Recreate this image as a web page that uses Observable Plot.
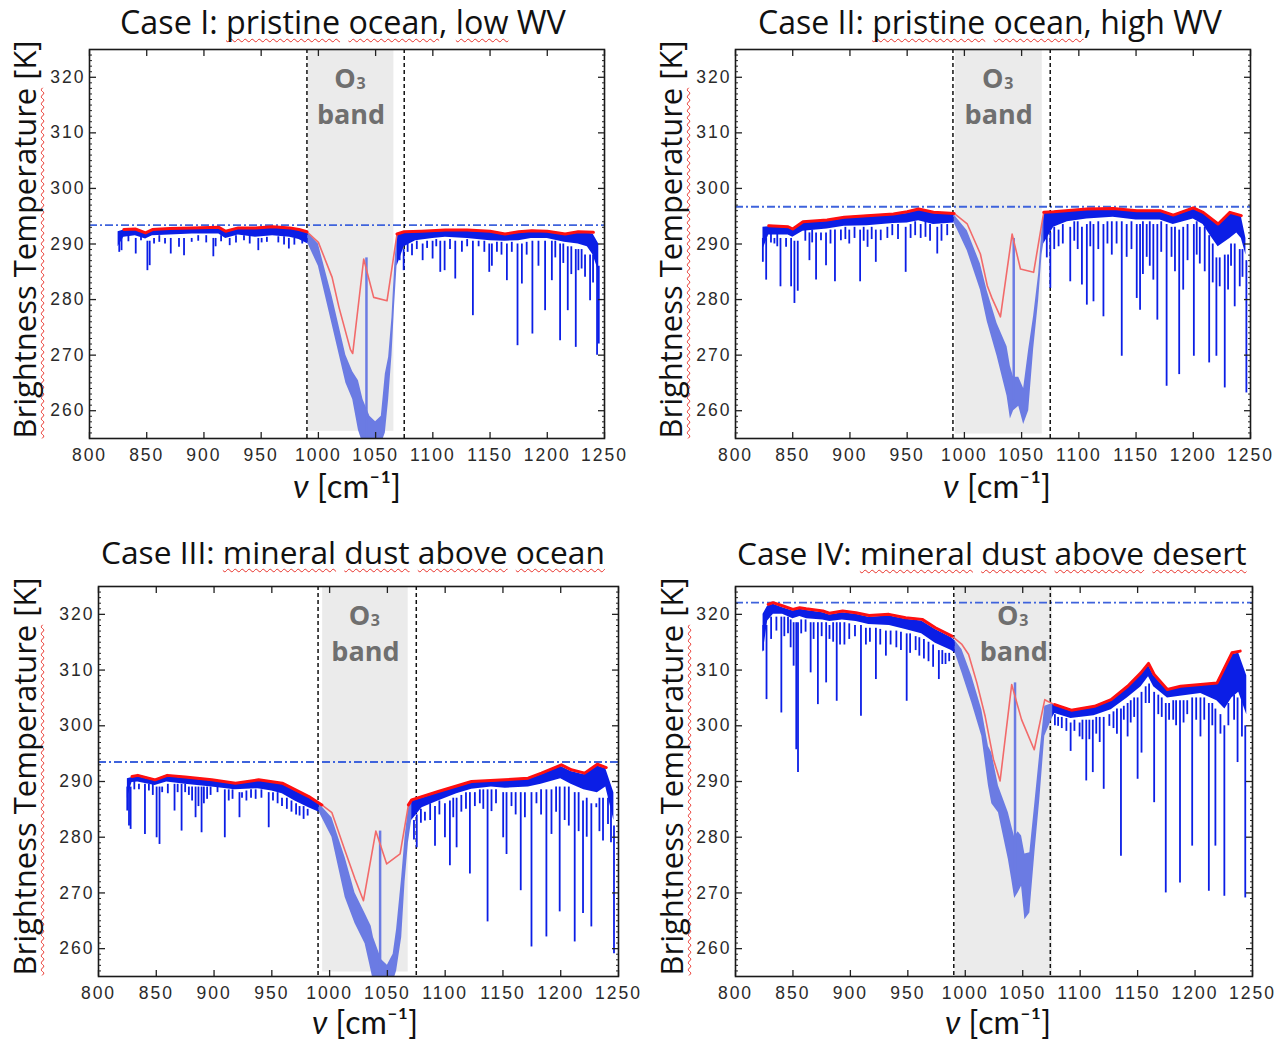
<!DOCTYPE html>
<html><head><meta charset="utf-8">
<script src="https://cdn.jsdelivr.net/npm/d3@7"></script>
<script src="https://cdn.jsdelivr.net/npm/@observablehq/plot@0.6"></script>
<style>
body{margin:0;background:#fff;}
#fig{position:relative;width:1288px;height:1041px;overflow:hidden;font-family:"Open Sans",sans-serif;color:#111;background:#fff}
.lab{position:absolute;white-space:nowrap;line-height:1;transform-origin:50% 50%}
.xlab{font-family:Lato,"Open Sans",sans-serif}
.sq{text-decoration:underline wavy #e8322a;text-decoration-thickness:1px;text-underline-offset:4px;text-decoration-skip-ink:none}
g[aria-label$="tick label"] text{letter-spacing:2px}
</style></head><body><div id="fig"></div>
<script>
// ---------------- data ----------------
const xTicks = [800, 850, 900, 950, 1000, 1050, 1100, 1150, 1200, 1250];
const yTicks = [260, 270, 280, 290, 300, 310, 320];
const titles = ["Case I: pristine ocean, low WV", "Case II: pristine ocean, high WV",
  "Case III: mineral dust above ocean", "Case IV: mineral dust above desert"];
const flagged = [["pristine", "ocean,", "low"], ["pristine", "ocean,"],
  ["mineral", "dust", "above", "ocean"], ["mineral", "dust", "above", "desert"]];
const yLabelWords = ["Brightness Temperature", "[K]"];
const xLabelParts = ["ν", "[cm⁻¹]"];
const o3Label = ["O", "3", "band"];
// O3 band [from, to, bottom]
const bands = [[991, 1066, 256.3], [992, 1068, 255.8], [994, 1068, 255.8], [991, 1076, 255]];
const dashedNu = [[990, 1075], [990, 1075], [990, 1075], [990, 1074]];
const refLevel = [293.4, 296.7, 293.5, 322.1];

// red envelope [nu, T]
const p1Red = [[830,292.6],[840,292.7],[849,292.0],[855,292.6],[870,292.8],[890,292.9],[913,293.0],[919,292.3],[930,292.9],[945,292.9],[960,293.1],[975,292.9],[983,292.6],[990,292.2],[1000,290.3],[1012,284.0],[1018,278.6],[1028,271.0],[1030,270.3],[1039.6,287.3],[1048.3,280.4],[1060,279.8],[1068.7,291.8],[1075,292.2],[1090,292.3],[1111,292.5],[1130,292.5],[1150,292.3],[1163,291.8],[1175,292.2],[1186.5,292.4],[1200,292.3],[1215.6,291.8],[1227,292.2],[1240.3,292.1]];
const p2Red = [[829,293.3],[846,293.1],[850,292.7],[859,294.0],[880,294.3],[895,294.8],[915,295.1],[938,295.4],[950,295.8],[960,296.3],[973,295.7],[991,295.5],[1002.5,293.6],[1014,288.2],[1020,282.5],[1024,280.3],[1031.5,276.9],[1041.7,291.8],[1049,285.5],[1060.5,284.9],[1069.3,295.7],[1078,295.8],[1107,296.3],[1130,296.4],[1150.6,296.0],[1171,296.0],[1182.5,295.2],[1200,296.5],[1208.6,295.7],[1221.7,293.6],[1232,295.7],[1242,295.1]];
const p3Red = [[829,290.9],[834,291.1],[849,290.3],[859.5,291.1],[875,290.8],[898,290.3],[918.6,289.7],[938.6,290.3],[959,289.7],[970.5,288.5],[982,287.3],[993.3,285.8],[1002,284.4],[1013.5,277.5],[1022,272.5],[1029.3,268.6],[1040,281.1],[1049.4,275.2],[1061,277.0],[1068.2,285.8],[1071,286.7],[1094,288.2],[1122.8,290.0],[1151.6,290.3],[1171.8,290.6],[1183.3,291.5],[1200.6,293.0],[1209.2,292.1],[1220.7,291.5],[1231.7,293.1],[1239.4,292.5]];
const p4Red = [[828.4,321.8],[832.7,322.1],[841.4,321.5],[850,320.9],[855.8,321.2],[861.5,321.0],[876,320.6],[881.7,320.2],[893.3,320.6],[904.8,320.3],[916.3,319.8],[933.6,320.0],[948.1,319.4],[962.5,319.1],[974,317.6],[988.4,316.1],[997.1,314.6],[1002.9,312.8],[1010.1,307.7],[1017.3,301.7],[1024.5,294.0],[1030.3,290.1],[1040.4,307.4],[1049,301.1],[1060,295.7],[1069.2,304.7],[1071.5,304.4],[1077.9,303.8],[1092.3,302.8],[1112.5,303.5],[1126.9,304.7],[1141.3,307.1],[1152.8,309.5],[1159.5,311.2],[1164.4,309.2],[1175.9,306.5],[1187.4,307.1],[1204.7,307.4],[1219.2,307.7],[1226.4,310.7],[1232.1,313.1],[1239.3,313.4]];

// dense blue spectrum outside the O3 band [nu, upper, lower]
const p1Fuzz = [[825,292.2,289.5],[830,292.5,291.2],[840,292.6,291.5],[849,292.0,290.9],[855,292.5,291.5],[870,292.6,291.6],[890,292.8,291.8],[913,292.8,291.8],[919,292.2,291.0],[930,292.8,291.6],[945,292.8,291.2],[960,293.0,291.5],[975,292.8,291.2],[983,292.4,290.8],[991,292.0,290.0],
  [1068.7,291.6,286.0],[1075,292.0,289.5],[1085,292.1,290.6],[1100,292.2,291.0],[1111,292.4,291.2],[1130,292.3,291.0],[1150,292.2,290.6],[1163,291.7,290.5],[1175,292.1,290.6],[1186,292.3,291.0],[1200,292.2,291.0],[1215,291.7,290.3],[1227,292.0,290.0],[1235,292.0,289.5],[1240,291.8,288.0],[1245,290.0,285.0]];
const p2Fuzz = [[824,293.0,289.0],[829,293.1,291.6],[846,292.9,291.6],[850,292.5,291.2],[859,293.8,292.3],[880,294.1,292.7],[895,294.6,293.2],[915,294.9,293.3],[938,295.2,293.7],[950,295.5,293.8],[960,296.1,294.2],[973,295.5,293.5],[985,295.3,293.7],[991,295.3,293.8],
  [1069.3,295.5,290.0],[1078,295.6,293.0],[1090,295.8,294.0],[1107,296.1,294.5],[1130,296.2,294.8],[1150,295.8,294.3],[1171,295.8,294.3],[1182.5,295.0,293.5],[1200,296.3,294.5],[1208.6,295.5,293.5],[1215,294.5,291.5],[1221.7,293.4,289.5],[1232,295.5,291.0],[1238,295.3,292.0],[1242,294.9,291.0],[1246,291.0,288.0]];
const p3Fuzz = [[825,290.5,287.0],[829,290.7,289.8],[834,290.9,289.9],[849,290.1,289.3],[859,290.9,289.9],[875,290.6,289.5],[898,290.1,289.0],[918,289.5,288.5],[938,290.1,288.7],[950,289.8,288.3],[959,289.5,287.8],[970,288.3,286.5],[982,287.1,285.3],[991,286.0,284.5],
  [1071,286.5,283.0],[1080,287.0,285.3],[1094,288.0,286.5],[1110,289.0,287.8],[1123,289.8,288.6],[1140,290.0,289.0],[1152,290.1,288.8],[1172,290.4,289.0],[1183,291.2,289.5],[1200,292.7,290.5],[1209,291.8,289.5],[1220,291.2,288.5],[1231.7,292.8,288.0],[1239,292.3,289.0],[1246,288.0,283.0]];
const p4Fuzz = [[824,320.0,313.0],[828,321.5,318.8],[833,321.8,320.0],[841,321.2,320.0],[850,320.6,319.2],[856,320.9,319.6],[862,320.7,319.2],[876,320.3,319.0],[882,319.9,318.7],[893,320.3,319.0],[905,320.0,318.7],[916,319.5,318.2],[934,319.7,318.0],[948,319.1,317.3],[962,318.8,316.5],[974,317.3,314.8],[988,315.8,313.5],[991.3,315.2,313.0],
  [1076,304.0,301.5],[1078,303.6,302.2],[1092,302.6,301.3],[1112,303.3,301.8],[1127,304.5,302.9],[1141,306.9,305.0],[1153,309.2,307.0],[1159.5,310.8,308.8],[1164,309.0,307.0],[1176,306.3,305.0],[1187,306.9,305.3],[1205,307.2,305.8],[1219,307.5,304.5],[1226,310.3,303.0],[1232,312.8,305.0],[1238,313.0,306.0],[1245,309.0,302.0]];

// blue spectrum inside the O3 band [nu, upper, lower]
const p1Band = [[991,292.0,290.0],[1000,290.0,286.0],[1012,280.6,275.5],[1024,270.0,265.0],[1030,267.0,262.0],[1035,265.4,256.5],[1039,262.0,254.0],[1045,259.0,254.0],[1050,258.0,254.0],[1055,259.0,254.0],[1058.5,266.6,256.0],[1061.4,269.6,262.0],[1064.3,276.8,270.0],[1066.6,285.8,279.0],[1068.7,291.6,286.0]];
const p2Band = [[991,295.3,293.8],[994,294.5,292.5],[1002.5,292.4,288.8],[1014,286.4,281.7],[1020,281.5,276.0],[1028.6,275.7,269.8],[1037.3,271.5,262.6],[1040.2,268.0,258.5],[1043,266.0,260.0],[1047.5,266.0,260.8],[1051.8,264.0,257.5],[1056.2,271.0,260.0],[1060.5,277.0,271.0],[1064.9,284.6,279.9],[1067.8,292.5,288.0],[1069.3,295.5,290.0]];
const p3Band = [[991,286.0,284.5],[1002,283.5,280.0],[1013.5,276.3,269.2],[1022,270.0,264.5],[1030.7,266.3,260.9],[1036,264.0,256.0],[1038,262.0,254.0],[1045,258.0,254.0],[1050,257.0,254.0],[1055,259.0,254.0],[1058,263.5,256.0],[1062.4,272.8,262.0],[1065.3,280.0,272.0],[1068.2,285.3,279.0],[1071,286.5,283.0]];
const p4Band = [[991.3,315.2,313.0],[997.1,313.7,309.5],[1005.7,308.9,304.1],[1014.4,302.9,298.1],[1020.2,296.3,289.2],[1023.1,295.1,286.0],[1028.9,289.2,284.4],[1037.5,284.4,276.0],[1040.4,282.0,272.4],[1043,280.0,269.0],[1046,281.0,270.0],[1049,280.2,271.2],[1051.9,277.0,265.2],[1056.2,277.2,266.4],[1060.6,286.2,277.2],[1064.9,295.1,286.8],[1069.2,303.5,298.1],[1076,304.0,301.5]];

// absorption lines [nu, top, bottom]
const p1Spikes = [[826,291,288.5],[828,291,288.8],[834,291.5,290.4],[840.4,291,288.2],[845,291.5,290.6],[850.6,290.5,285.2],[852.6,290.5,286.1],[856.4,291,290],[861,291.5,290.3],[866,291,290],[871,291,288.2],[878.2,291,289.4],[882.6,291,287.9],[889.3,291,290.3],[895,291.5,290.5],[902,291.5,290.2],[908.2,291,287.7],[910.2,291,289.5],[915,291.5,290.4],[922.5,291,289.7],[928,291.5,290.2],[935,291.5,290.6],[940,291.5,290.0],[947.5,291,288.8],[950.4,291,290.2],[955,291.2,290.3],[965,291.3,290.2],[970,291.3,289.8],[974.2,291,289.1],[979,291.0,289.8],[985.9,291,290],
  [1071,289,287],[1074.5,289,285.2],[1078,290,288.5],[1081.8,290,287.9],[1086,290.5,289.0],[1091.1,290,287],[1095,290.5,289.2],[1099.8,290.5,287.3],[1103,290.8,289.5],[1106.5,290.5,284.9],[1110.3,290.5,285.2],[1115,290.8,289.0],[1119.6,290.5,283.7],[1125.4,290.5,288.5],[1130,290.8,289.5],[1135,290.5,277.1],[1140,290.5,289.5],[1145,290.5,288.5],[1149.3,290,284.9],[1151.6,290,286],[1156,290.3,288.5],[1160,290.3,288.0],[1164.7,290,283.4],[1169,290.3,288.5],[1174,290,271.7],[1177.8,290,282.8],[1182,290.3,288.0],[1187,290.5,273.8],[1192.3,290.5,286],[1198.1,290.5,278],[1204,290.5,283.4],[1207,290.5,287.5],[1211.2,290,272.6],[1214,290,286.5],[1217.9,289.5,278],[1221,289.5,284.5],[1224.9,289,271.4],[1227.2,289,285.2],[1230,289,285.5],[1233,288,284],[1237.4,288,279.8],[1240,288,283],[1243.5,288,270],[1245,286,272]];
const p2Spikes = [[823.9,291,286.7],[826.8,291,283.5],[831,292,290.2],[834,291,290],[836.5,292,289.5],[839.3,291,282.3],[844.2,291,289.4],[848.6,291,282.3],[851.5,290.5,279.3],[854.4,290.5,281.5],[861,292.5,290.5],[864.6,292,287],[867,292.5,290.2],[870.4,292,283.5],[874.7,292,290.6],[879.1,292,286.1],[883,292.5,290.0],[886.9,292.5,283.2],[892.1,292.5,290.6],[896,293,290.8],[899.4,292.5,290],[904,293,291.0],[908.9,292.5,283.2],[912,293,290.5],[915.4,292.5,289.4],[919,293,290.8],[922.6,292.5,286.7],[926.9,292.5,290.6],[932.7,293,291.0],[937,293.5,291.5],[942,293.5,290.8],[948.7,293,284.9],[953,293.5,291.0],[957,294,291.5],[961.8,293.5,291.0],[966,294,291.2],[970,293.5,290.5],[976.3,293,288.2],[980,293.5,290.5],[985,293.5,291.5],
  [1072,292,287.5],[1075.1,292,282],[1078.5,293,289.0],[1082.3,292.5,289.5],[1086,293.5,290.0],[1092.5,293,283.2],[1096,294,290.5],[1099,294,289.0],[1102.7,293,282.6],[1107,293.5,279],[1110,294,289.5],[1112.8,293.5,279.6],[1117,294,289.0],[1121.5,293.5,276.9],[1125,294,290.0],[1128.8,294,288],[1133,294,290.0],[1137.5,294,269.8],[1141.8,293.5,287.6],[1146,294,289.0],[1150.6,293.5,280.2],[1153.5,293.5,278.1],[1156,294,284.5],[1159.3,293.5,287.6],[1162,294,286.0],[1165.1,293.5,283.5],[1168.6,293.5,276.3],[1172,294,288.5],[1176.7,293.5,264.4],[1181,293,287.6],[1184,293,285.0],[1187.7,292.5,266.5],[1191.2,293,281.7],[1195,293.5,287.0],[1200.5,293.5,269.8],[1203,294,288.0],[1205.7,293,286.4],[1210,293,285.0],[1213.9,291.5,268.6],[1217,290,283.0],[1220.2,287.5,269.8],[1223.1,287.5,282.3],[1227.5,288,264.1],[1230.4,288,281.7],[1233,290,286.0],[1236.2,290,278.7],[1240.6,289,282.3],[1243,289,284.0],[1246.4,287,263.2]];
const p3Spikes = [[824.9,289,284.7],[826.4,289,282],[827.8,289,281.4],[831,290,288.5],[835,289.5,288.5],[840.2,289.5,280.5],[843.6,289.5,288.3],[847,289.5,287.5],[850.3,289,279.9],[852.8,289,278.7],[855.1,289,288.0],[860,289.5,287.8],[865.8,289.5,284.7],[868.5,289.5,288.0],[871.9,289.5,281.1],[875,289.5,288.0],[878.2,289,287.5],[881,289,286.5],[884,289,283.5],[886.5,289,285.5],[889.2,289,280.8],[891.2,289,286],[894,289,286.8],[897,289,287.5],[903,289,288.0],[909.3,288.5,279.9],[912.7,288.5,286.5],[916,288.5,286.8],[922,288,283.5],[924.2,288,287],[928,288.3,286.5],[932,288.5,287.0],[936,288.5,286.8],[941,288.5,287.0],[947.3,288,281.7],[951,288,286.5],[955,288,286.0],[958.8,287,285.5],[963,287,285.0],[967,286.5,284.5],[971,286,284.0],[974,285.5,283.8],[977.5,285.5,283.2],[981,285,283.8],
  [1073,283,279.5],[1075.4,284,278.1],[1079,285,282.5],[1082.5,284.5,282.9],[1087,286,283.0],[1091.2,285.5,278.4],[1095,286.5,284.0],[1099.8,286,279.9],[1104.1,286.5,274.9],[1107,287,283.5],[1109.9,287,278.1],[1114,287.5,284.5],[1118,288,285.0],[1121.4,288,273.4],[1125.7,288,285.5],[1130,288.5,286.0],[1133,288.5,285.0],[1136.7,288.5,264.8],[1140.1,288.5,284.6],[1144,288.5,286.0],[1150.2,288,279.9],[1153.1,288,276.9],[1157.4,288,285.5],[1161,288,284.0],[1165.4,288,270.4],[1169,288,283.5],[1174.7,288,260.3],[1179,288,286],[1183,288.5,284.0],[1187.6,288.5,262.1],[1192,288.5,280.5],[1196,289,284.5],[1199.1,289,266.6],[1203.4,289,283],[1207,289,282.0],[1212.1,288,261.2],[1215.5,288,281.0],[1219.3,286.5,266.3],[1222.5,287,280.0],[1226.5,286,263.9],[1230.8,286,285.3],[1233.5,287,281.0],[1236.6,287,279.3],[1240.9,287,282.3],[1243.5,286,279.0],[1246.1,282,259.1]];
const p4Spikes = [[824.1,318,313.4],[827,318,304.7],[831,319.5,315.5],[835.6,319.5,317.0],[839.9,319.5,302.3],[842.5,319.5,316.0],[845.7,319.5,316.5],[848,319,314.0],[850.6,318.5,310.7],[852.9,318.5,295.7],[854.4,318.5,291.6],[857.2,319,316.5],[861,319,316.8],[865.4,318.5,309.5],[868,318.5,315.5],[871.7,318.5,303.8],[875,318.5,316.0],[878.9,318.5,307.7],[881.8,318,315.5],[885,318.5,315.0],[888.1,318.5,304.4],[891,318.5,314.5],[894.8,318.5,314.5],[899,318.3,315.5],[904,318,316.0],[909.2,318,301.7],[913.5,317.5,314.5],[917,317.5,315.0],[922.2,317.5,308.3],[926,317.3,314.5],[930.9,317,312.5],[935,317,314.5],[940,317,314.0],[944,316.8,313.5],[949,316.5,304.4],[952,316.5,313.0],[956.8,316,313.5],[960,315.8,312.5],[964,315.5,312.0],[968,315,311.5],[972,314.5,310.5],[977,313.5,308.3],[980,313.5,311.0],[982.8,313,311],[986,313,311.5],
  [1078,302,300.0],[1080.8,301.5,299.9],[1084,301.5,299.5],[1088,301.3,299.0],[1091.7,300.5,295.4],[1095,301,299.0],[1099.5,300.5,298],[1102,301,297.5],[1105.3,301,290.1],[1108,301,297.5],[1111,301,291.6],[1114,301.5,298.5],[1117,301.5,297.0],[1120.5,301.5,288.6],[1125.4,302,299.9],[1129,302.5,299.5],[1132,303,298.5],[1135.5,303,276.6],[1138,303.5,301.0],[1141.3,304,298],[1144,304.5,300.5],[1147,305,301.5],[1150,305,290.4],[1153.4,306,295.1],[1157,307,304.0],[1160,307.5,304.0],[1164.4,306,286.2],[1168,305.5,302.0],[1171,305,301.5],[1174.5,304,270],[1177.4,304,301],[1181,304.5,301.0],[1183.5,304.5,300.0],[1186.9,304.5,271.8],[1190,304.5,300.5],[1193.2,304.5,302],[1197.5,305,278.4],[1201,305,301.0],[1204.7,305,298],[1208,305,301.0],[1212,304,270.3],[1215,304,300.0],[1217.7,303,278.4],[1222.1,302,298.5],[1225.5,300,269.4],[1229,304,300.0],[1234,305.5,301.0],[1237,305,293.4],[1240.8,305,298],[1243.7,300,269.1]];
// absorption line peaks inside the band [nu, bottom, top]
const bandSpikes = [[[1042,254,287.5]], [[1043.1,262,291]], [[1043.7,255,281.1]], [[1043.3,270,307.7]]];

const reds = [p1Red, p2Red, p3Red, p4Red];
const fuzz = [p1Fuzz, p2Fuzz, p3Fuzz, p4Fuzz];
const bandFuzz = [p1Band, p2Band, p3Band, p4Band];
const spikes = [p1Spikes, p2Spikes, p3Spikes, p4Spikes];

// ---------------- layout ----------------
const layout = [
  {l: 89, t: 49, w: 515, h: 389, title: {cx: 343, cy: 22, w: 446}, ylab: {cx: 25, y0: 40, y1: 438}, xlab: {cx: 347, cy: 486, w: 108}, o3dx: 0},
  {l: 735, t: 49, w: 515, h: 389, title: {cx: 990, cy: 22, w: 464}, ylab: {cx: 671, y0: 40, y1: 438}, xlab: {cx: 997, cy: 486, w: 108}, o3dx: 0},
  {l: 98, t: 586, w: 520, h: 390, title: {cx: 353, cy: 552, w: 504}, ylab: {cx: 25, y0: 577, y1: 975}, xlab: {cx: 365, cy: 1022, w: 106}, o3dx: 0},
  {l: 735, t: 586, w: 517, h: 390, title: {cx: 992, cy: 553, w: 510}, ylab: {cx: 672, y0: 577, y1: 975}, xlab: {cx: 998, cy: 1022, w: 106}, o3dx: 10}
];
const xDomain = [800, 1250], yDomain = [255, 325];
const yMinor = d3.range(256, 325).filter(v => v % 10 !== 0);
const blue = "#0b1ee6", lightBlue = "#6b7be3", red = "#ff1010", redThin = "#f26a6a";
const fig = document.getElementById("fig");

function fitLabel(html, cls, target, cx, cy, rotate) {
  const el = document.createElement("div");
  el.className = "lab " + cls;
  el.innerHTML = html;
  el.style.fontSize = "100px";
  fig.appendChild(el);
  const w = el.offsetWidth;
  el.style.fontSize = (100 * target / w) + "px";
  el.style.left = (cx - el.offsetWidth / 2) + "px";
  el.style.top = (cy - el.offsetHeight / 2) + "px";
  if (rotate) el.style.transform = "rotate(-90deg)";
  return el;
}

function titleHTML(t, words) {
  return t.split(" ").map(w => words.includes(w) ? `<span class="sq">${w.replace(/,$/, "")}</span>${w.endsWith(",") ? "," : ""}` : w).join(" ");
}

for (let i = 0; i < 4; i++) {
  const L = layout[i];
  const mL = 50, mR = 10, mT = 6, mB = 36;
  const band = bands[i];
  const mid = (band[0] + band[1]) / 2;
  const textStyle = {fontFamily: "Open Sans", fontWeight: "bold", fill: "#6f6f6f"};
  const chart = Plot.plot({
    width: L.w + mL + mR, height: L.h + mT + mB,
    marginLeft: mL, marginRight: mR, marginTop: mT, marginBottom: mB,
    x: {domain: xDomain}, y: {domain: yDomain},
    style: {background: "transparent", overflow: "visible"},
    marks: [
      Plot.rect([band], {x1: d => d[0], x2: d => d[1], y1: d => d[2], y2: yDomain[1], fill: "#ebebeb"}),
      Plot.text([o3Label[0]], {x: mid, frameAnchor: "top", dx: -6 + L.o3dx, dy: 19, text: d => d, fontSize: 27, ...textStyle}),
      Plot.text([o3Label[1]], {x: mid, frameAnchor: "top", dx: 10 + L.o3dx, dy: 28, text: d => d, fontSize: 16, ...textStyle}),
      Plot.text([o3Label[2]], {x: mid, frameAnchor: "top", dx: L.o3dx, dy: 55, text: d => d, fontSize: 27, ...textStyle}),
      Plot.ruleY([refLevel[i]], {stroke: "#3e63dc", strokeWidth: 1.8, strokeDasharray: "8,3,2,3"}),
      Plot.ruleX(dashedNu[i], {stroke: "#111", strokeWidth: 1.5, strokeDasharray: "4,3"}),
      Plot.areaY(bandFuzz[i], {x: d => d[0], y1: d => d[2], y2: d => d[1], fill: lightBlue, clip: true}),
      Plot.ruleX(bandSpikes[i], {x: d => d[0], y1: d => d[1], y2: d => d[2], stroke: lightBlue, strokeWidth: 2.5, clip: true}),
      Plot.areaY(fuzz[i], {x: d => d[0], y1: d => d[2], y2: d => d[1], z: d => d[0] < 1030 ? "L" : "R", fill: blue, clip: true}),
      Plot.ruleX(spikes[i], {x: d => d[0], y1: d => d[1], y2: d => d[2], stroke: blue, strokeWidth: 1.8, clip: true}),
      Plot.line(reds[i], {x: d => d[0], y: d => d[1], stroke: redThin, strokeWidth: 1.6}),
      Plot.line(reds[i], {filter: d => d[0] <= band[0], x: d => d[0], y: d => d[1], stroke: red, strokeWidth: 3}),
      Plot.line(reds[i], {filter: d => d[0] >= band[1], x: d => d[0], y: d => d[1], stroke: red, strokeWidth: 3}),
      Plot.axisX(xTicks, {anchor: "bottom", tickSize: -6, tickFormat: () => "", color: "#222", strokeWidth: 1.3}),
      Plot.axisX(xTicks, {anchor: "top", tickSize: -6, tickFormat: () => "", color: "#222", strokeWidth: 1.3}),
      Plot.axisY(yTicks, {anchor: "left", tickSize: -7, tickFormat: () => "", color: "#222", strokeWidth: 1.3}),
      Plot.axisY(yTicks, {anchor: "right", tickSize: -7, tickFormat: () => "", color: "#222", strokeWidth: 1.3}),
      Plot.axisY(yMinor, {anchor: "left", tickSize: -3, tickFormat: () => "", color: "#222"}),
      Plot.axisY(yMinor, {anchor: "right", tickSize: -3, tickFormat: () => "", color: "#222"}),
      Plot.axisX(xTicks, {anchor: "bottom", tickSize: 0, tickPadding: 10, tickFormat: d => String(d), fontSize: 17.5, fontFamily: "Liberation Sans", color: "#2a2a2a"}),
      Plot.axisY(yTicks, {anchor: "left", tickSize: 0, tickPadding: 4, tickFormat: d => String(d), fontSize: 17.5, fontFamily: "Liberation Sans", color: "#2a2a2a"}),
      Plot.frame({stroke: "#1a1a1a", strokeWidth: 1.6})
    ]
  });
  chart.style.position = "absolute";
  chart.style.left = (L.l - mL) + "px";
  chart.style.top = (L.t - mT) + "px";
  fig.appendChild(chart);

  fitLabel(titleHTML(titles[i], flagged[i]), "title", L.title.w, L.title.cx, L.title.cy, false);
  fitLabel(`<span class="sq">${yLabelWords[0]}</span> ${yLabelWords[1]}`, "ylab", L.ylab.y1 - L.ylab.y0, L.ylab.cx, (L.ylab.y0 + L.ylab.y1) / 2, true);
  fitLabel(`<i>${xLabelParts[0]}</i> ${xLabelParts[1]}`, "xlab", L.xlab.w, L.xlab.cx, L.xlab.cy, false);
}
</script></body></html>
